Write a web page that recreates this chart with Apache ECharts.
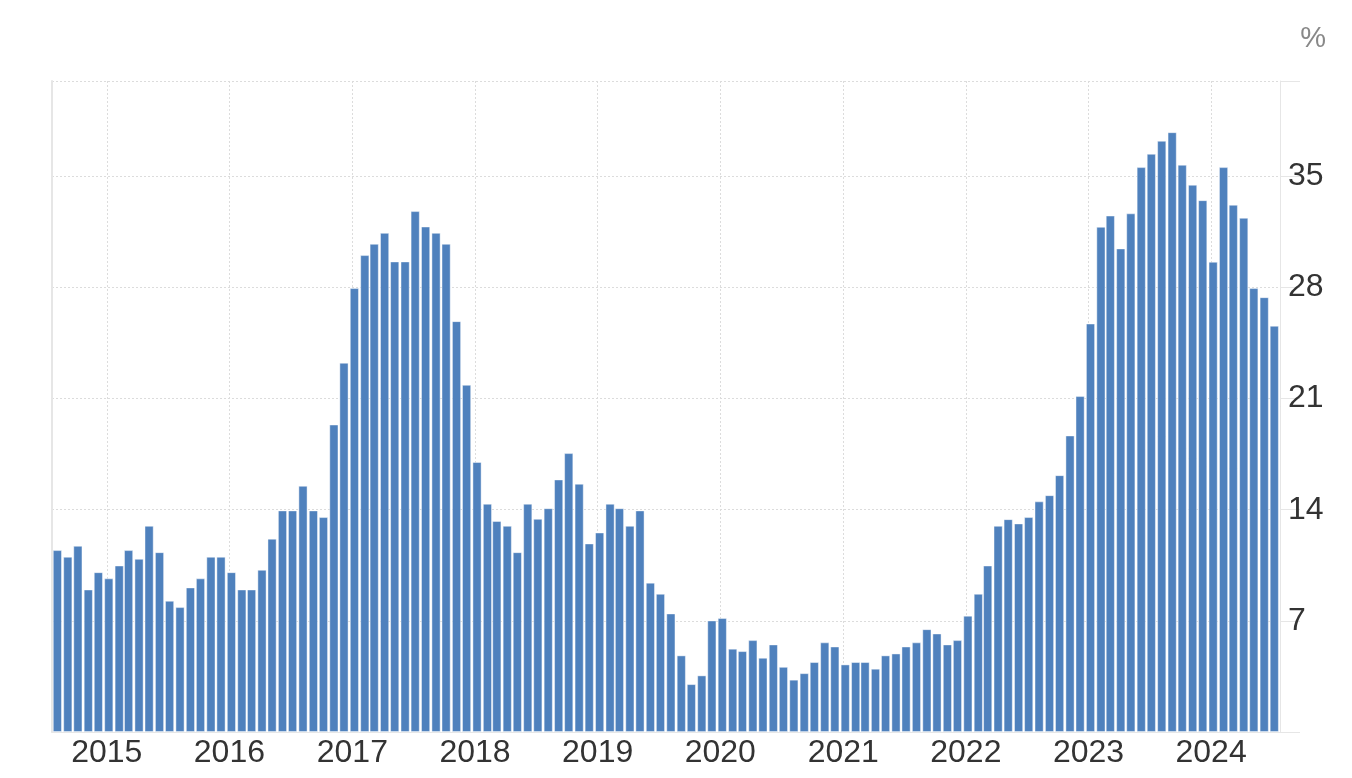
<!DOCTYPE html>
<html>
<head>
<meta charset="utf-8">
<script src="https://cdn.jsdelivr.net/npm/echarts@6/dist/echarts.min.js"></script>
<style>
html,body{margin:0;padding:0;background:#fff;}
#chart{width:1352px;height:778px;}
</style>
</head>
<body>
<div id="chart"></div>
<script>
// Monthly categories (Aug 2014 - Jul 2024)
const months = [
 '2014-08','2014-09','2014-10','2014-11','2014-12',
 '2015-01','2015-02','2015-03','2015-04','2015-05','2015-06','2015-07','2015-08','2015-09','2015-10','2015-11','2015-12',
 '2016-01','2016-02','2016-03','2016-04','2016-05','2016-06','2016-07','2016-08','2016-09','2016-10','2016-11','2016-12',
 '2017-01','2017-02','2017-03','2017-04','2017-05','2017-06','2017-07','2017-08','2017-09','2017-10','2017-11','2017-12',
 '2018-01','2018-02','2018-03','2018-04','2018-05','2018-06','2018-07','2018-08','2018-09','2018-10','2018-11','2018-12',
 '2019-01','2019-02','2019-03','2019-04','2019-05','2019-06','2019-07','2019-08','2019-09','2019-10','2019-11','2019-12',
 '2020-01','2020-02','2020-03','2020-04','2020-05','2020-06','2020-07','2020-08','2020-09','2020-10','2020-11','2020-12',
 '2021-01','2021-02','2021-03','2021-04','2021-05','2021-06','2021-07','2021-08','2021-09','2021-10','2021-11','2021-12',
 '2022-01','2022-02','2022-03','2022-04','2022-05','2022-06','2022-07','2022-08','2022-09','2022-10','2022-11','2022-12',
 '2023-01','2023-02','2023-03','2023-04','2023-05','2023-06','2023-07','2023-08','2023-09','2023-10','2023-11','2023-12',
 '2024-01','2024-02','2024-03','2024-04','2024-05','2024-06','2024-07'
];

// Values (%) by year
const v2014 = [11.45, 11.03, 11.72, 8.97, 10.06];
const v2015 = [9.67, 10.48, 11.45, 10.9, 12.98, 11.32, 8.26, 7.86, 9.1, 9.67, 11.03, 11.03];
const v2016 = [10.06, 8.97, 8.97, 10.21, 12.17, 13.95, 13.95, 15.5, 13.95, 13.53, 19.36, 23.25];
const v2017 = [27.95, 30.03, 30.74, 31.43, 29.63, 29.63, 32.8, 31.83, 31.43, 30.74, 25.87, 21.86];
const v2018 = [17.0, 14.37, 13.28, 12.98, 11.32, 14.37, 13.42, 14.09, 15.9, 17.56, 15.63, 11.87];
const v2019 = [12.56, 14.37, 14.09, 12.98, 13.95, 9.4, 8.7, 7.46, 4.82, 3.01, 3.56, 7.02];
const v2020 = [7.17, 5.24, 5.09, 5.78, 4.67, 5.51, 4.1, 3.29, 3.7, 4.4, 5.64, 5.38];
const v2021 = [4.25, 4.4, 4.4, 3.98, 4.82, 4.94, 5.38, 5.64, 6.47, 6.2, 5.51, 5.78];
const v2022 = [7.32, 8.7, 10.48, 12.98, 13.4, 13.13, 13.53, 14.52, 14.91, 16.17, 18.67, 21.15];
const v2023 = [25.72, 31.81, 32.52, 30.45, 32.66, 35.57, 36.41, 37.23, 37.77, 35.72, 34.46, 33.49];
const v2024 = [29.61, 35.57, 33.2, 32.38, 27.95, 27.38, 25.58];

// Y tick labels
const yTickLabels = [7, 14, 21, 28, 35];
const unitLabel = '%';

const values = [].concat(v2014, v2015, v2016, v2017, v2018, v2019, v2020, v2021, v2022, v2023, v2024);
const seriesData = months.map((m, i) => [m + '-07', values[i]]);

const FONT = "'Liberation Sans', Arial, Helvetica, sans-serif";
const DAY = 24 * 3600 * 1000;
const YEAR = 365 * DAY;

// Layout: visible time window, compensating ECharts' bar-overflow extent padding
const GRID_LEFT = 52, GRID_RIGHT = 72;
const BAR_W = 9;
const axisLen = 1352 - GRID_LEFT - GRID_RIGHT;
const visMin = new Date(2014, 6, 22).getTime();
const visMax = new Date(2024, 6, 24).getTime();
const pad = (visMax - visMin) * (BAR_W / 2) / axisLen;

const chart = echarts.init(document.getElementById('chart'));
chart.setOption({
  animation: false,
  backgroundColor: '#ffffff',
  grid: { left: GRID_LEFT, right: GRID_RIGHT, top: 81, bottom: 46 },
  xAxis: {
    type: 'time',
    min: visMin + pad,
    max: visMax - pad,
    splitNumber: 10,
    minInterval: YEAR,
    maxInterval: YEAR + DAY,
    axisLine: { show: true, lineStyle: { color: '#e6e6e6', width: 1 } },
    axisTick: { show: false },
    axisLabel: {
      color: '#333',
      fontSize: 32,
      fontFamily: FONT,
      margin: 5,
      formatter: function (v) { return String(new Date(v).getFullYear()); }
    },
    splitLine: { show: true, lineStyle: { color: '#dcdcdc', width: 1, type: [2, 2] } }
  },
  yAxis: [
    {
      type: 'value',
      position: 'right',
      min: 0,
      max: 41,
      interval: 7,
      axisLine: { show: true, lineStyle: { color: '#e6e6e6', width: 1 } },
      axisTick: { show: true, inside: false, length: 20, lineStyle: { color: '#e6e6e6' } },
      axisLabel: {
        color: '#333',
        fontSize: 32,
        fontFamily: FONT,
        margin: 8,
        padding: [0, 0, 18, 0],
        formatter: function (v) { return yTickLabels.indexOf(v) >= 0 ? String(v) : ''; }
      },
      splitLine: { show: true, lineStyle: { color: '#dcdcdc', width: 1, type: [2, 2] } }
    },
    {
      type: 'value',
      position: 'left',
      min: 0,
      max: 41,
      axisLine: { show: true, lineStyle: { color: '#e6e6e6', width: 2 } },
      axisTick: { show: false },
      axisLabel: { show: false },
      splitLine: { show: false }
    }
  ],
  graphic: [
    {
      type: 'text',
      right: 26,
      top: 24,
      style: { text: unitLabel, fill: '#888', font: "29px 'Liberation Sans', Arial, sans-serif" }
    }
  ],
  series: [
    {
      type: 'bar',
      yAxisIndex: 0,
      data: seriesData,
      barWidth: BAR_W,
      itemStyle: {
        color: '#4f81bd',
        borderColor: 'rgba(255,255,255,0.55)',
        borderWidth: 0.8
      }
    }
  ]
});
</script>
</body>
</html>
